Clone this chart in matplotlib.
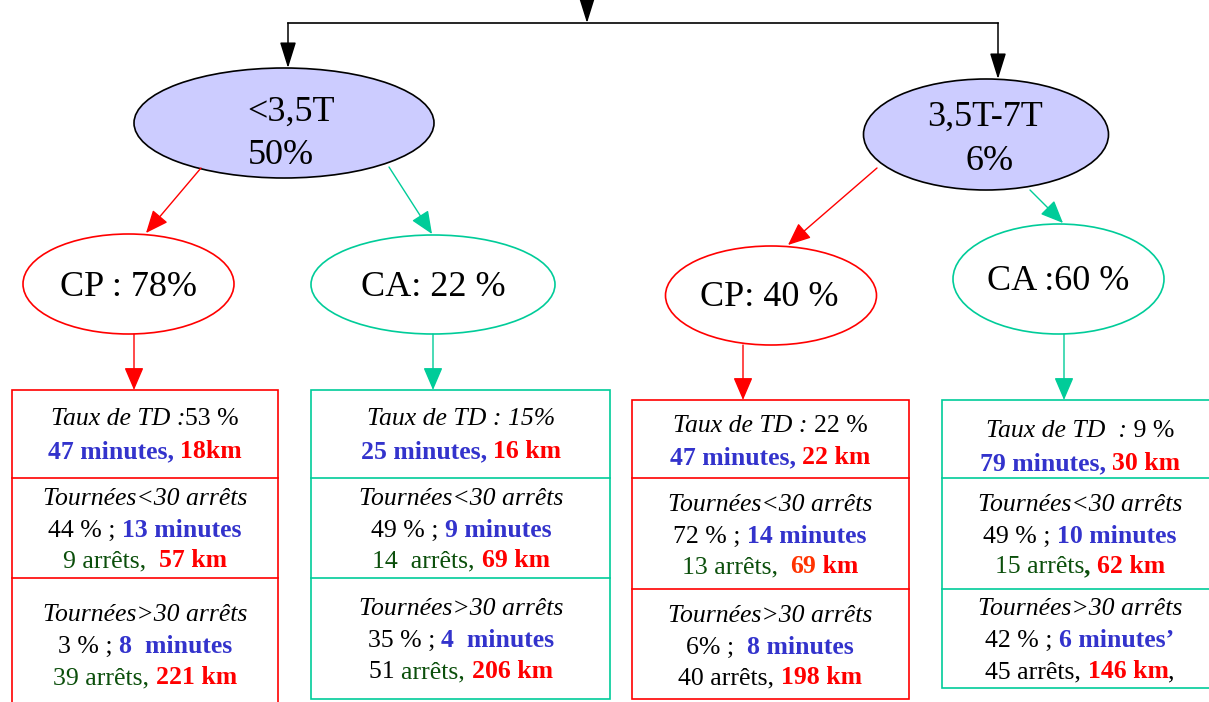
import matplotlib
matplotlib.use("Agg")
import matplotlib.pyplot as plt
from matplotlib.patches import Ellipse, Rectangle
from matplotlib.font_manager import FontProperties

# ---------------- data ----------------
weight_classes = ["<3,5T", "3,5T-7T"]
weight_shares = ["50%", "6%"]
vehicle_nodes = ["CP : 78%", "CA: 22 %", "CP: 40 %", "CA :60 %"]

BLK, BLU, RED, GRN, ORG = "black", "#3333CC", "#FF0000", "#0B4F0B", "#FF3300"
# segment: (text, colour, style) style: n normal, i italic, b bold
box_cp_small = [
    [("Taux de TD :", BLK, "i"), ("53 %", BLK, "n")],
    [("47 minutes, ", BLU, "b"), ("18km", RED, "b")],
    [("Tournées<30 arrêts", BLK, "i")],
    [("44 % ; ", BLK, "n"), ("13 minutes", BLU, "b")],
    [("9 arrêts,  ", GRN, "n"), ("57 km", RED, "b")],
    [("Tournées>30 arrêts", BLK, "i")],
    [("3 % ; ", BLK, "n"), ("8  minutes", BLU, "b")],
    [("39 arrêts, ", GRN, "n"), ("221 km", RED, "b")],
]
box_ca_small = [
    [("Taux de TD : 15%", BLK, "i")],
    [("25 minutes, ", BLU, "b"), ("16 km", RED, "b")],
    [("Tournées<30 arrêts", BLK, "i")],
    [("49 % ; ", BLK, "n"), ("9 minutes", BLU, "b")],
    [("14  arrêts, ", GRN, "n"), ("69 km", RED, "b")],
    [("Tournées>30 arrêts", BLK, "i")],
    [("35 % ; ", BLK, "n"), ("4  minutes", BLU, "b")],
    [("51 ", BLK, "n"), ("arrêts, ", GRN, "n"), ("206 km", RED, "b")],
]
box_cp_mid = [
    [("Taux de TD : ", BLK, "i"), ("22 %", BLK, "n")],
    [("47 minutes, ", BLU, "b"), ("22 km", RED, "b")],
    [("Tournées<30 arrêts", BLK, "i")],
    [("72 % ; ", BLK, "n"), ("14 minutes", BLU, "b")],
    [("13 arrêts,  ", GRN, "n"), ("69", ORG, "b"), (" km", RED, "b")],
    [("Tournées>30 arrêts", BLK, "i")],
    [("6% ;  ", BLK, "n"), ("8 minutes", BLU, "b")],
    [("40 arrêts, ", BLK, "n"), ("198 km", RED, "b")],
]
box_ca_mid = [
    [("Taux de TD  :", BLK, "i"), (" 9 %", BLK, "n")],
    [("79 minutes, ", BLU, "b"), ("30 km", RED, "b")],
    [("Tournées<30 arrêts", BLK, "i")],
    [("49 % ; ", BLK, "n"), ("10 minutes", BLU, "b")],
    [("15 arrêts", GRN, "n"), (", ", GRN, "b"), ("62 km", RED, "b")],
    [("Tournées>30 arrêts", BLK, "i")],
    [("42 % ; ", BLK, "n"), ("6 minutes’", BLU, "b")],
    [("45 arrêts, ", BLK, "n"), ("146 km", RED, "b"), (",", BLK, "n")],
]
boxes_text = [box_cp_small, box_ca_small, box_cp_mid, box_ca_mid]

# ---------------- layout ----------------
W, H = 1209, 702
fig = plt.figure(figsize=(W / 100, H / 100), dpi=100)
ax = fig.add_axes([0, 0, 1, 1])
ax.set_xlim(0, W)
ax.set_ylim(H, 0)
ax.axis("off")

SERIF = "Liberation Serif"
TEAL = "#00CC99"
FILL = "#CCCCFF"

def arrow(x0, y0, x1, y1, color, hl=0.7, hw=0.3, lw=1.1):
    ax.annotate("", xy=(x1, y1), xytext=(x0, y0),
                arrowprops=dict(arrowstyle=f"-|>,head_length={hl},head_width={hw}",
                                color=color, lw=lw, mutation_scale=20,
                                shrinkA=0, shrinkB=0))

# top connectors
ax.plot([288, 998], [23, 23], color="black", lw=1.2)
arrow(587, -2, 587, 23, "black", hl=0.8, hw=0.25)
arrow(288, 23, 288, 68, "black", hl=0.8, hw=0.25)
arrow(998, 23, 998, 79, "black", hl=0.8, hw=0.25)

# weight-class ellipses
big_ell = [((284, 123), 300, 110), ((986, 134.5), 245, 111)]
big_txt = [[(247, 112, "left"), (248, 156, "left")],
           [(985, 117, "center"), (990, 161, "center")]]
for (c, w, h), lab, share, pos in zip(big_ell, weight_classes, weight_shares, big_txt):
    ax.add_patch(Ellipse(c, w, h, facecolor=FILL, edgecolor="black", lw=1.2))
    ax.text(pos[0][0], pos[0][1], lab, ha=pos[0][2], va="center", fontsize=26, family=SERIF)
    ax.text(pos[1][0], pos[1][1], share, ha=pos[1][2], va="center", fontsize=26, family=SERIF)

# colored arrows to vehicle nodes
arrow(201, 168, 146, 233, RED, lw=1.0)
arrow(389, 167, 432, 234, TEAL, lw=1.0)
arrow(877, 168, 788, 245, RED, lw=1.0)
arrow(1030, 190, 1063, 223, TEAL, lw=1.0)

# vehicle ellipses
node_geom = [((128.5, 284), 211, 100, RED, (128, 288)),
             ((433, 284.5), 244, 99, TEAL, (433, 288)),
             ((771, 295.5), 211, 99, RED, (769, 298)),
             ((1058.5, 279), 211, 110, TEAL, (1058, 282))]
for (c, w, h, col, tp), lab in zip(node_geom, vehicle_nodes):
    ax.add_patch(Ellipse(c, w, h, facecolor="white", edgecolor=col, lw=1.2))
    ax.text(tp[0], tp[1], lab, ha="center", va="center", fontsize=26, family=SERIF)

# down arrows to boxes
arrow(134, 334, 134, 390, RED, lw=1.0)
arrow(433, 334, 433, 390, TEAL, lw=1.0)
arrow(743, 345, 743, 400, RED, lw=1.0)
arrow(1064, 334, 1064, 400, TEAL, lw=1.0)

# boxes: (x0, x1, y_top, div1, div2, y_bottom, color, text_cx, line_ys)
box_geom = [
    (12, 278, 390, 478, 578, 712, RED, 145, [418, 451, 498, 530, 560, 614, 646, 677]),
    (311, 610, 390, 478, 578, 699, TEAL, 461, [418, 451, 498, 530, 560, 608, 640, 671]),
    (632, 909, 400, 478, 589, 699, RED, 770, [425, 457, 504, 536, 566, 615, 647, 677]),
    (942, 1215, 400, 478, 589, 688, TEAL, 1080, [430, 463, 504, 536, 566, 608, 640, 671]),
]

FS = 18.5
fps = {
    "n": FontProperties(family=SERIF, size=FS),
    "i": FontProperties(family=SERIF, size=FS, style="italic"),
    "b": FontProperties(family=SERIF, size=FS, weight="bold"),
}
renderer = fig.canvas.get_renderer()

def seg_width(s, fp):
    t1 = ax.text(0, 0, "|" + s + "|", fontproperties=fp)
    w1 = t1.get_window_extent(renderer).width
    t1.remove()
    t2 = ax.text(0, 0, "||", fontproperties=fp)
    w2 = t2.get_window_extent(renderer).width
    t2.remove()
    return w1 - w2

def draw_line(cx, cy, segs):
    widths = [seg_width(s, fps[st]) for s, _, st in segs]
    x = cx - sum(widths) / 2
    for (s, col, st), w in zip(segs, widths):
        ax.text(x, cy + 7, s, ha="left", va="baseline", color=col, fontproperties=fps[st])
        x += w

for (x0, x1, yt, d1, d2, yb, col, cx, ys), lines in zip(box_geom, boxes_text):
    ax.add_patch(Rectangle((x0, yt), x1 - x0, yb - yt, facecolor="white", edgecolor=col, lw=1.2))
    ax.plot([x0, x1], [d1, d1], color=col, lw=1.2)
    ax.plot([x0, x1], [d2, d2], color=col, lw=1.2)
    for y, segs in zip(ys, lines):
        draw_line(cx, y, segs)

fig.savefig("out.png", dpi=100)
